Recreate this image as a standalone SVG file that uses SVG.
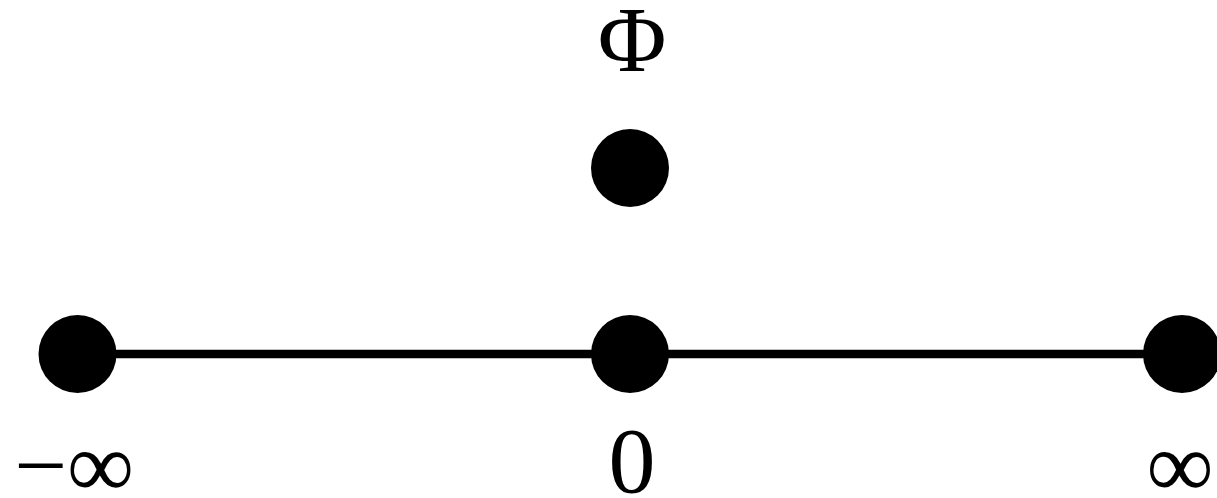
<svg xmlns="http://www.w3.org/2000/svg" width="1217" height="498" viewBox="0 0 1217 498">
<style>
.n{fill:#000}
.t{font-family:"Liberation Serif","Times New Roman",serif;font-size:94px;fill:#000;text-anchor:middle}
</style>
<rect width="1217" height="498" fill="#fff"/>
<g id="connectors">
<line x1="78" y1="354" x2="1182" y2="354" stroke="#000" stroke-width="8.5"/>
</g>
<g id="node-neg-inf"><circle class="n" cx="77.5" cy="354" r="39"/><text class="t" x="74" y="497">−∞</text></g>
<g id="node-zero"><circle class="n" cx="630" cy="354" r="39"/><text class="t" x="632" y="492">0</text></g>
<g id="node-inf"><circle class="n" cx="1182" cy="354" r="39"/><text class="t" x="1180" y="497">∞</text></g>
<g id="node-phi"><circle class="n" cx="630" cy="168" r="39"/><text class="t" x="632" y="71" font-size="104">Φ</text></g>
</svg>
